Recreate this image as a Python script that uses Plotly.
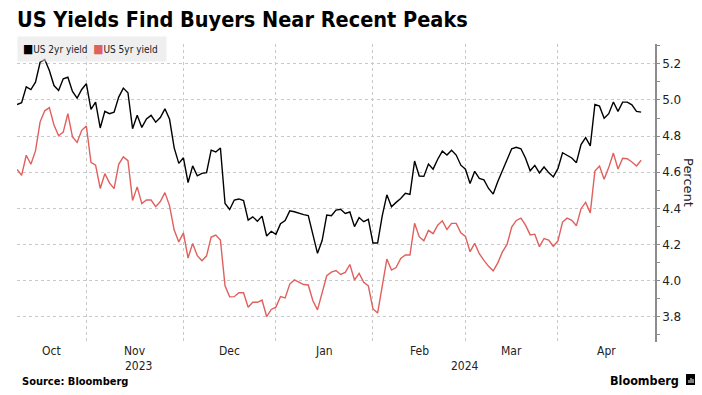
import pandas as pd
import plotly.graph_objects as go

# ---------------- data ----------------
start_date = "2023-10-11"
end_date = "2024-04-25"
range_end = "2024-04-30"
holidays = ["2023-11-23", "2023-12-25", "2024-01-01", "2024-01-15",
            "2024-02-19", "2024-03-29"]

us2y = [4.975, 4.985, 5.073, 5.058, 5.099, 5.209, 5.224, 5.163, 5.080, 5.053,
        5.117, 5.126, 5.047, 5.010, 5.058, 5.090, 4.948, 4.988, 4.845, 4.937,
        4.924, 4.933, 5.016, 5.066, 5.040, 4.841, 4.915, 4.848, 4.895, 4.915,
        4.877, 4.903, 4.951, 4.893, 4.735, 4.649, 4.680, 4.543, 4.635, 4.580,
        4.594, 4.598, 4.722, 4.712, 4.734, 4.427, 4.394, 4.446, 4.452, 4.443,
        4.335, 4.353, 4.329, 4.357, 4.247, 4.273, 4.256, 4.315, 4.333, 4.386,
        4.381, 4.372, 4.365, 4.360, 4.255, 4.151, 4.222, 4.363, 4.359, 4.390,
        4.395, 4.372, 4.380, 4.299, 4.349, 4.326, 4.339, 4.208, 4.208, 4.358,
        4.475, 4.409, 4.433, 4.455, 4.483, 4.477, 4.662, 4.579, 4.577, 4.645,
        4.617, 4.672, 4.717, 4.695, 4.722, 4.695, 4.639, 4.617, 4.538, 4.605,
        4.566, 4.558, 4.510, 4.479, 4.549, 4.611, 4.671, 4.730, 4.738, 4.730,
        4.677, 4.608, 4.638, 4.596, 4.629, 4.598, 4.574, 4.620, 4.708, 4.694,
        4.679, 4.653, 4.753, 4.792, 4.746, 4.975, 4.966, 4.899, 4.924, 4.989,
        4.937, 4.988, 4.988, 4.973, 4.937, 4.933]

us5y = [4.616, 4.583, 4.694, 4.644, 4.718, 4.879, 4.940, 4.958, 4.862, 4.802,
        4.822, 4.924, 4.795, 4.765, 4.832, 4.856, 4.655, 4.639, 4.510, 4.592,
        4.541, 4.509, 4.644, 4.685, 4.664, 4.444, 4.519, 4.426, 4.446, 4.446,
        4.409, 4.438, 4.487, 4.414, 4.280, 4.214, 4.264, 4.125, 4.206, 4.138,
        4.110, 4.137, 4.241, 4.252, 4.224, 3.971, 3.910, 3.911, 3.933, 3.933,
        3.852, 3.880, 3.880, 3.892, 3.801, 3.840, 3.853, 3.912, 3.904, 3.981,
        4.004, 3.990, 3.978, 3.976, 3.888, 3.838, 3.936, 4.027, 4.047, 4.056,
        4.034, 4.045, 4.089, 4.003, 4.040, 3.990, 3.970, 3.843, 3.820, 3.980,
        4.119, 4.058, 4.072, 4.123, 4.142, 4.142, 4.317, 4.243, 4.220, 4.278,
        4.260, 4.307, 4.331, 4.283, 4.317, 4.317, 4.264, 4.245, 4.160, 4.206,
        4.149, 4.112, 4.079, 4.054, 4.098, 4.159, 4.200, 4.296, 4.333, 4.346,
        4.307, 4.253, 4.257, 4.188, 4.233, 4.224, 4.190, 4.219, 4.324, 4.346,
        4.334, 4.304, 4.398, 4.433, 4.375, 4.607, 4.634, 4.561, 4.627, 4.706,
        4.618, 4.677, 4.675, 4.657, 4.635, 4.666]

series_names = ["US 2yr yield", "US 5yr yield"]
series_colors = ["#000000", "#e0605e"]
y_ticks = [3.8, 4.0, 4.2, 4.4, 4.6, 4.8, 5.0, 5.2]
title_text = "US Yields Find Buyers Near Recent Peaks"
source_text = "Source: Bloomberg"

# trading days (weekends and US bond-market holidays removed)
dates = pd.bdate_range(start_date, end_date, freq="C", holidays=holidays)
n_pts = min(len(dates), len(us2y), len(us5y))
dates = dates[:n_pts]

# ---------------- geometry ----------------
W, H = 702, 395
L, R, T, B = 17, 655, 44, 342


def px_x(p):
    return (p - L) / (R - L)


def px_y(p):
    return (B - p) / (B - T)


COND = "Liberation Sans Narrow, DejaVu Sans Condensed, Liberation Sans, sans-serif"
SMALL = "DejaVu Sans Condensed, DejaVu Sans, sans-serif"
GRID = "#c9c9c9"

fig = go.Figure()
for name, vals, col in zip(series_names, [us2y, us5y], series_colors):
    fig.add_trace(go.Scatter(x=dates, y=vals[:n_pts], mode="lines", name=name,
                             line=dict(color=col, width=1.4),
                             hovertemplate="%{x|%b %d, %Y}: %{y:.3f}<extra>" + name + "</extra>"))

fig.update_layout(
    width=W, height=H,
    margin=dict(l=L, r=W - R, t=T, b=H - B, pad=0),
    paper_bgcolor="white", plot_bgcolor="white",
    showlegend=False,
    title=dict(text="<b>" + title_text + "</b>", x=px_x(L), xref="paper", xanchor="left",
               y=1 - 19 / H, yref="container", yanchor="middle",
               font=dict(family=COND, size=21.5, color="#000")),
)

fig.update_xaxes(
    type="date",
    range=[dates[0], range_end],
    rangebreaks=[dict(bounds=["sat", "mon"]), dict(values=holidays)],
    tickmode="linear", tick0="2023-10-01", dtick="M1",
    showticklabels=False, ticks="",
    showgrid=True, gridcolor=GRID, griddash="dot", gridwidth=1,
    showline=False, zeroline=False,
)

fig.update_yaxes(
    side="right", range=[3.66, 5.31],
    tickmode="array", tickvals=y_ticks, ticktext=[f"{v:.1f}" for v in y_ticks],
    ticks="outside", ticklen=3, tickcolor="#8c8c8c", tickwidth=1,
    tickfont=dict(family="DejaVu Sans, Verdana, sans-serif", size=12, color="#222"),
    showline=True, linecolor="#8c8c8c", linewidth=1.5,
    showgrid=True, gridcolor=GRID, griddash="dot", gridwidth=1,
    zeroline=False,
    minor=dict(tickmode="linear", tick0=3.7, dtick=0.2, ticks="outside", ticklen=3,
               tickcolor="#8c8c8c", showgrid=False),
)

annotations = []

# month labels centred on each month's visible span, year labels centred under their months
range_days = pd.bdate_range(start_date, range_end, freq="C", holidays=holidays)
n_rng = len(range_days) - 1
bounds = [0] + [i for i in range(1, len(range_days))
                if range_days[i].month != range_days[i - 1].month] + [n_rng]
month_mid = []
for b0, b1 in zip(bounds[:-1], bounds[1:]):
    mid = (b0 + b1) / 2 / n_rng
    month_mid.append((range_days[b0], mid))
    annotations.append(dict(text=range_days[b0].strftime("%b"), x=mid, y=px_y(351),
                            xref="paper", yref="paper", xanchor="center", yanchor="middle",
                            showarrow=False, font=dict(family=SMALL, size=12, color="#222")))
years = sorted(set(d.year for d, _ in month_mid))
for yr in years:
    xs = [m for d, m in month_mid if d.year == yr]
    annotations.append(dict(text=str(yr), x=sum(xs) / len(xs), y=px_y(366),
                            xref="paper", yref="paper", xanchor="center", yanchor="middle",
                            showarrow=False, font=dict(family=SMALL, size=12, color="#222")))

# legend box
legend_txt = "&nbsp;".join(
    f"<span style='color:{c};font-size:12px'>■</span>{n}&nbsp;"
    for n, c in zip(series_names, series_colors))
annotations.append(dict(text=legend_txt, x=0, y=px_y(36), xref="paper", yref="paper",
                        xanchor="left", yanchor="top", showarrow=False, align="left",
                        bgcolor="rgba(225,225,225,0.55)", borderpad=5,
                        font=dict(family=SMALL, size=10, color="#222")))

# y axis title
annotations.append(dict(text="Percent", x=px_x(689), y=px_y(182), xref="paper", yref="paper",
                        xanchor="center", yanchor="middle", textangle=90, showarrow=False,
                        font=dict(family="DejaVu Sans, sans-serif", size=13, color="#222")))

# source and logo
annotations.append(dict(text="<b>" + source_text + "</b>", x=px_x(20), y=px_y(381),
                        xref="paper", yref="paper", xanchor="left", yanchor="middle",
                        showarrow=False, font=dict(family=COND, size=11, color="#000")))
annotations.append(dict(text="<b>Bloomberg</b>", x=px_x(681), y=px_y(380),
                        xref="paper", yref="paper", xanchor="right", yanchor="middle",
                        showarrow=False, font=dict(family=COND, size=12.5, color="#000")))

fig.update_layout(annotations=annotations)

fig.add_shape(type="rect", xref="paper", yref="paper",
              x0=px_x(686), x1=px_x(695), y0=px_y(385), y1=px_y(374),
              fillcolor="#000", line=dict(width=0))
for bx, btop in [(689, 380), (691, 378), (693, 379)]:
    fig.add_shape(type="line", xref="paper", yref="paper",
                  x0=px_x(bx), x1=px_x(bx), y0=px_y(383), y1=px_y(btop),
                  line=dict(color="#fff", width=1))

fig.write_html("out.html", config={"displayModeBar": False},
               post_script="document.body.style.margin='0px';document.body.style.padding='0px';")
